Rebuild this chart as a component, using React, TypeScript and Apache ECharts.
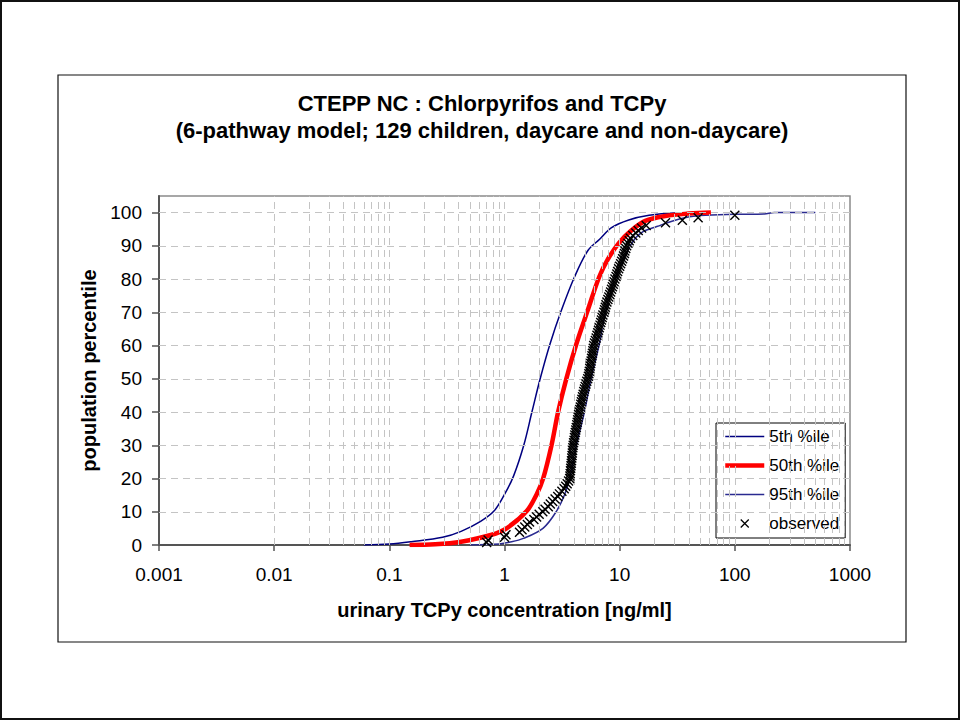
import React, { useEffect, useRef } from 'react';
import * as echarts from 'echarts';

// ---- data ----
const P5_X = [0.06, 0.1, 0.155, 0.29, 0.42, 0.62, 0.81, 1.0, 1.2, 1.47, 1.73, 2.04, 2.48, 3.12, 4.06, 5.3, 6.7, 8.5, 12, 18, 30, 50];
const P5_Y = [0, 0.3, 1.0, 2.3, 4.1, 7.1, 10.2, 15.2, 20.8, 30, 40, 50, 60.4, 70.6, 80.7, 88.6, 92, 95.5, 97.8, 99.2, 99.9, 100];

const P50_X = [0.15, 0.25, 0.42, 0.76, 1.05, 1.56, 1.9, 2.17, 2.56, 2.92, 3.44, 4.2, 5.28, 6.65, 7.84, 9.87, 12.4, 16.7, 25, 40, 62];
const P50_Y = [0, 0.2, 1, 3, 5.1, 10.2, 15.2, 20.1, 30, 40, 50, 60.4, 70.6, 80.7, 85.8, 90.9, 94.4, 97.5, 99, 99.7, 100];

const P95_X = [0.5, 0.9, 1.1, 1.46, 2.17, 2.83, 3.33, 3.68, 4.2, 4.94, 5.64, 6.65, 7.59, 9.24, 12.8, 15.5, 21, 33, 50, 100, 180, 220, 500];
const P95_Y = [0, 0.3, 0.8, 2, 5.1, 10.2, 15.2, 20.1, 30, 40, 50, 60.4, 70.6, 80.7, 90.9, 94, 95.8, 98.1, 99.1, 99.5, 99.6, 100, 100];

const OBS_X = [
  0.70, 0.72, 1.00, 1.03, 1.35, 1.42, 1.50, 1.58, 1.65, 1.80,
  1.90, 2.00, 2.15, 2.25, 2.40, 2.50, 2.62, 2.75, 2.90, 3.00,
  3.15, 3.30, 3.40, 3.50, 3.60, 3.68, 3.70, 3.72, 3.74, 3.76,
  3.78, 3.80, 3.82, 3.84, 3.86, 3.88, 3.90, 3.92, 3.95, 3.98,
  4.02, 4.05, 4.08, 4.12, 4.16, 4.20, 4.24, 4.28, 4.32, 4.36,
  4.40, 4.45, 4.50, 4.55, 4.60, 4.65, 4.70, 4.76, 4.82, 4.88,
  4.95, 5.02, 5.10, 5.18, 5.28, 5.35, 5.40, 5.45, 5.50, 5.55,
  5.60, 5.65, 5.70, 5.75, 5.80, 5.85, 5.90, 5.95, 6.05, 6.15,
  6.25, 6.35, 6.45, 6.55, 6.65, 6.75, 6.85, 6.95, 7.05, 7.15,
  7.30, 7.40, 7.50, 7.60, 7.75, 7.90, 8.05, 8.20, 8.35, 8.50,
  8.65, 8.80, 8.95, 9.10, 9.30, 9.45, 9.60, 9.80, 10.0, 10.2,
  10.4, 10.6, 10.8, 11.0, 11.1, 11.3, 11.5, 11.8, 12.1, 12.4,
  13.0, 13.8, 14.5, 15.5, 17.0, 25, 35, 48, 100,
];
const OBS_Y = [
  0.77, 1.54, 2.31, 3.08, 3.85, 4.62, 5.38, 6.15, 6.92, 7.69,
  8.46, 9.23, 10.00, 10.77, 11.54, 12.31, 13.08, 13.85, 14.62, 15.38,
  16.15, 16.92, 17.69, 18.46, 19.23, 20.00, 20.77, 21.54, 22.31, 23.08,
  23.85, 24.62, 25.38, 26.15, 26.92, 27.69, 28.46, 29.23, 30.00, 30.77,
  31.54, 32.31, 33.08, 33.85, 34.62, 35.38, 36.15, 36.92, 37.69, 38.46,
  39.23, 40.00, 40.77, 41.54, 42.31, 43.08, 43.85, 44.62, 45.38, 46.15,
  46.92, 47.69, 48.46, 49.23, 50.00, 50.77, 51.54, 52.31, 53.08, 53.85,
  54.62, 55.38, 56.15, 56.92, 57.69, 58.46, 59.23, 60.00, 60.77, 61.54,
  62.31, 63.08, 63.85, 64.62, 65.38, 66.15, 66.92, 67.69, 68.46, 69.23,
  70.00, 70.77, 71.54, 72.31, 73.08, 73.85, 74.62, 75.38, 76.15, 76.92,
  77.69, 78.46, 79.23, 80.00, 80.77, 81.54, 82.31, 83.08, 83.85, 84.62,
  85.38, 86.15, 86.92, 87.69, 88.46, 89.23, 90.00, 90.77, 91.54, 92.31,
  93.08, 93.85, 94.62, 95.38, 96.15, 96.92, 97.69, 98.46, 99.23,
];

const X_TICK_LABELS = ['0.001', '0.01', '0.1', '1', '10', '100', '1000'];
const X_DECADES = [0.001, 0.01, 0.1, 1, 10, 100];
const Y_TICKS = [0, 10, 20, 30, 40, 50, 60, 70, 80, 90, 100];

const SERIES_NAMES = ['5th %ile', '50th %ile', '95th %ile', 'observed'];
const TITLE = 'CTEPP NC : Chlorpyrifos and TCPy\n(6-pathway model; 129 children, daycare and non-daycare)';
const X_NAME = 'urinary TCPy concentration [ng/ml]';
const Y_NAME = 'population percentile';

const FONT = "'Liberation Sans', Arial, Helvetica, sans-serif";
const X_MARK = 'path://M0,0L10,10M10,0L0,10';
const X_MARK_LEGEND = 'path://M0,0M3.5,3.5L11.5,11.5M11.5,3.5L3.5,11.5M15,15';

const zip = (xs: number[], ys: number[]) => xs.map((x, i) => [x, ys[i]]);

export default function App() {
  const ref = useRef<HTMLDivElement>(null);

  useEffect(() => {
    if (!ref.current) return;
    const chart = echarts.init(ref.current, null, { renderer: 'svg' });

    const gridX: number[] = [];
    X_DECADES.forEach((d, i) => {
      if (i > 0) gridX.push(d);
      for (let k = 2; k <= 9; k++) gridX.push(k * d);
    });
    const gridY = Y_TICKS.filter((v) => v > 0);

    const option: any = {
      animation: false,
      backgroundColor: '#fff',
      textStyle: { fontFamily: FONT },
      title: {
        text: TITLE,
        left: 482,
        top: 90,
        padding: 0,
        textAlign: 'center',
        textStyle: { fontFamily: FONT, fontSize: 22, fontWeight: 'bold', color: '#000', lineHeight: 27 },
      },
      grid: {
        left: 159,
        top: 196,
        width: 691,
        height: 349,
        show: true,
        borderColor: '#8a8a8a',
        borderWidth: 1.5,
        backgroundColor: 'transparent',
      },
      legend: {
        orient: 'vertical',
        left: 716,
        top: 423,
        padding: [5, 6, 6, 7],
        itemWidth: 39,
        itemHeight: 15,
        itemGap: 12,
        backgroundColor: '#fff',
        borderColor: '#000',
        borderWidth: 1,
        borderRadius: 0,
        textStyle: { fontFamily: FONT, fontSize: 17, color: '#000' },
        data: [
          { name: SERIES_NAMES[0], lineStyle: { width: 1.5 }, itemStyle: { opacity: 0 } },
          { name: SERIES_NAMES[1], lineStyle: { width: 4.5 }, itemStyle: { opacity: 0 } },
          { name: SERIES_NAMES[2], lineStyle: { width: 1.5 }, itemStyle: { opacity: 0 } },
          { name: SERIES_NAMES[3], icon: X_MARK_LEGEND, itemStyle: { color: 'rgba(0,0,0,0)', borderColor: '#000', borderWidth: 1.3 } },
        ],
      },
      xAxis: {
        type: 'log',
        logBase: 10,
        min: 0.001,
        max: 1000,
        splitNumber: 6,
        name: X_NAME,
        nameLocation: 'middle',
        nameGap: 55,
        nameTextStyle: { fontFamily: FONT, fontSize: 20, fontWeight: 'bold', color: '#000' },
        axisLine: { show: true, lineStyle: { color: '#555', width: 2 } },
        axisTick: { show: true, inside: false, length: 6, lineStyle: { color: '#555', width: 1.5 } },
        axisLabel: {
          color: '#000',
          fontSize: 19,
          fontFamily: FONT,
          margin: 20,
          formatter: (v: number) => X_TICK_LABELS[Math.round(Math.log10(v)) + 3] ?? '',
        },
        splitLine: { show: false },
        minorTick: { show: false },
      },
      yAxis: {
        type: 'value',
        min: 0,
        max: 105,
        interval: 10,
        name: Y_NAME,
        nameLocation: 'middle',
        nameGap: 60,
        nameTextStyle: { fontFamily: FONT, fontSize: 20, fontWeight: 'bold', color: '#000' },
        axisLine: { show: true, lineStyle: { color: '#555', width: 2 } },
        axisTick: { show: true, inside: false, length: 7, lineStyle: { color: '#555', width: 1.5 }, customValues: Y_TICKS },
        axisLabel: { color: '#000', fontSize: 19, fontFamily: FONT, margin: 17, customValues: Y_TICKS },
        splitLine: { show: false },
      },
      graphic: [
        { type: 'rect', z: -10, silent: true, shape: { x: 1, y: 1, width: 958, height: 718 }, style: { fill: 'none', stroke: '#111', lineWidth: 2 } },
        { type: 'rect', z: -10, silent: true, shape: { x: 58, y: 75, width: 848, height: 567 }, style: { fill: 'none', stroke: '#111', lineWidth: 1.2 } },
      ],
      series: [
        {
          name: '__grid',
          type: 'line',
          data: [],
          silent: true,
          z: 1,
          markLine: {
            silent: true,
            symbol: ['none', 'none'],
            label: { show: false },
            lineStyle: { color: '#c4c4c4', type: [7, 5], width: 1 },
            emphasis: { disabled: true },
            data: [...gridX.map((v) => ({ xAxis: v })), ...gridY.map((v) => ({ yAxis: v }))],
          },
        },
        {
          name: SERIES_NAMES[0],
          type: 'line',
          data: zip(P5_X, P5_Y),
          showSymbol: false,
          symbol: 'none',
          smooth: 0.35,
          z: 3,
          lineStyle: { color: '#000080', width: 1.5 },
          itemStyle: { color: '#000080' },
        },
        {
          name: SERIES_NAMES[2],
          type: 'line',
          data: zip(P95_X, P95_Y),
          showSymbol: false,
          symbol: 'none',
          smooth: 0.35,
          z: 3,
          lineStyle: { color: '#2a2a90', width: 1.5 },
          itemStyle: { color: '#2a2a90' },
        },
        {
          name: SERIES_NAMES[1],
          type: 'line',
          data: zip(P50_X, P50_Y),
          showSymbol: false,
          symbol: 'none',
          smooth: 0.35,
          z: 4,
          lineStyle: { color: '#ff0000', width: 4.5 },
          itemStyle: { color: '#ff0000' },
        },
        {
          name: SERIES_NAMES[3],
          type: 'scatter',
          data: zip(OBS_X, OBS_Y),
          symbol: X_MARK,
          symbolSize: 9,
          z: 5,
          itemStyle: { color: 'rgba(0,0,0,0)', borderColor: '#000', borderWidth: 1.4, opacity: 1 },
        },
      ],
    };

    chart.setOption(option);
    return () => chart.dispose();
  }, []);

  return (
    <div
      ref={ref}
      style={{ position: 'fixed', left: 0, top: 0, width: 961, height: 721, background: '#fff' }}
    />
  );
}
